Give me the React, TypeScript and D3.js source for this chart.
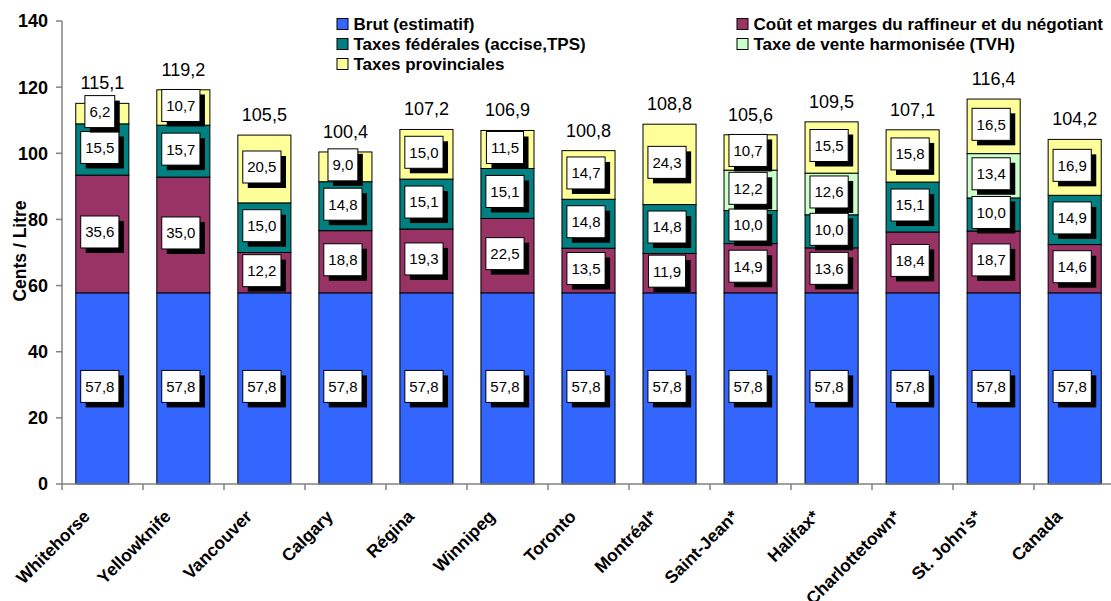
import React, { useEffect, useRef } from 'react';
import * as d3 from 'd3';

const cities = [
  'Whitehorse', 'Yellowknife', 'Vancouver', 'Calgary', 'Régina', 'Winnipeg', 'Toronto',
  'Montréal*', 'Saint-Jean*', 'Halifax*', 'Charlottetown*', "St. John's*", 'Canada',
];

const brut = [57.8, 57.8, 57.8, 57.8, 57.8, 57.8, 57.8, 57.8, 57.8, 57.8, 57.8, 57.8, 57.8];
const raffineur = [35.6, 35.0, 12.2, 18.8, 19.3, 22.5, 13.5, 11.9, 14.9, 13.6, 18.4, 18.7, 14.6];
const federales = [15.5, 15.7, 15.0, 14.8, 15.1, 15.1, 14.8, 14.8, 10.0, 10.0, 15.1, 10.0, 14.9];
const tvh = [0, 0, 0, 0, 0, 0, 0, 0, 12.2, 12.6, 0, 13.4, 0];
const provinciales = [6.2, 10.7, 20.5, 9.0, 15.0, 11.5, 14.7, 24.3, 10.7, 15.5, 15.8, 16.5, 16.9];
const totals = [115.1, 119.2, 105.5, 100.4, 107.2, 106.9, 100.8, 108.8, 105.6, 109.5, 107.1, 116.4, 104.2];

const yTicks = [0, 20, 40, 60, 80, 100, 120, 140];

const series = [
  { key: 'brut', label: 'Brut (estimatif)', values: brut, color: '#3366FF' },
  { key: 'raff', label: 'Coût et marges du raffineur et du négotiant', values: raffineur, color: '#993366' },
  { key: 'fed', label: 'Taxes fédérales (accise,TPS)', values: federales, color: '#008080' },
  { key: 'tvh', label: 'Taxe de vente harmonisée (TVH)', values: tvh, color: '#CCFFCC' },
  { key: 'prov', label: 'Taxes provinciales', values: provinciales, color: '#FFFF99' },
];

const FONT = 'Arial, "Liberation Sans", sans-serif';
const fmt = (v: number) => v.toFixed(1).replace('.', ',');

const App: React.FC = () => {
  const svgRef = useRef<SVGSVGElement>(null);

  useEffect(() => {
    if (!svgRef.current) return;
    const svg = d3.select(svgRef.current);
    svg.selectAll('*').remove();

    const left = 62;
    const right = 1115;
    const top = 21;
    const bottom = 484;

    const x = d3.scaleBand<string>().domain(cities).range([left, right]).paddingInner(0.345).paddingOuter(0.17);
    const step = (right - left) / cities.length;
    const y = d3.scaleLinear().domain([0, 140]).range([bottom, top]);

    const rows = cities.map((c, i) => {
      const r: any = { city: c };
      series.forEach(s => { r[s.key] = s.values[i]; });
      return r;
    });
    const stacked = d3.stack<any>().keys(series.map(s => s.key))(rows);

    // bars
    stacked.forEach((layer, li) => {
      svg.append('g')
        .selectAll('rect')
        .data(layer.filter(d => d[1] - d[0] > 0))
        .enter()
        .append('rect')
        .attr('x', d => x(d.data.city)!)
        .attr('width', x.bandwidth())
        .attr('y', d => y(d[1]))
        .attr('height', d => y(d[0]) - y(d[1]))
        .attr('fill', series[li].color)
        .attr('stroke', '#000')
        .attr('stroke-width', 1);
    });

    // value boxes with drop shadow
    const boxes = svg.append('g');
    stacked.forEach(layer => {
      layer.forEach(d => {
        const v = d[1] - d[0];
        if (v <= 0) return;
        const cx = x(d.data.city)! + x.bandwidth() / 2 - 2.5;
        const cy = y((d[0] + d[1]) / 2) - 2;
        const g = boxes.append('g');
        const t = g.append('text')
          .attr('x', cx)
          .attr('y', cy)
          .attr('dy', '0.36em')
          .attr('text-anchor', 'middle')
          .attr('font-family', FONT)
          .attr('font-size', 15)
          .attr('fill', '#000')
          .text(fmt(v));
        const w = (t.node() as SVGTextElement).getComputedTextLength() + 9;
        const h = 32;
        g.insert('rect', 'text')
          .attr('x', cx - w / 2 + 5)
          .attr('y', cy - h / 2 + 5)
          .attr('width', w)
          .attr('height', h)
          .attr('fill', '#000');
        g.insert('rect', 'text')
          .attr('x', cx - w / 2)
          .attr('y', cy - h / 2)
          .attr('width', w)
          .attr('height', h)
          .attr('fill', '#fff')
          .attr('stroke', '#000')
          .attr('stroke-width', 1);
      });
    });

    // totals
    svg.append('g')
      .selectAll('text')
      .data(cities)
      .enter()
      .append('text')
      .attr('x', c => x(c)! + x.bandwidth() / 2)
      .attr('y', (c, i) => y(totals[i]) - 14)
      .attr('text-anchor', 'middle')
      .attr('font-family', FONT)
      .attr('font-size', 18)
      .text((c, i) => fmt(totals[i]));

    // y axis
    const yAxis = svg.append('g');
    yAxis.append('line')
      .attr('x1', left).attr('x2', left)
      .attr('y1', top).attr('y2', bottom)
      .attr('stroke', '#808080').attr('stroke-width', 1.5);
    yTicks.forEach(t => {
      yAxis.append('line')
        .attr('x1', left - 6).attr('x2', left)
        .attr('y1', y(t)).attr('y2', y(t))
        .attr('stroke', '#808080').attr('stroke-width', 1.5);
      yAxis.append('text')
        .attr('x', left - 14)
        .attr('y', y(t))
        .attr('dy', '0.36em')
        .attr('text-anchor', 'end')
        .attr('font-family', FONT)
        .attr('font-size', 18)
        .attr('font-weight', 'bold')
        .text(t);
    });
    svg.append('text')
      .attr('transform', `translate(26,251) rotate(-90)`)
      .attr('text-anchor', 'middle')
      .attr('font-family', FONT)
      .attr('font-size', 17.5)
      .attr('font-weight', 'bold')
      .text('Cents / Litre');

    // x axis
    const xAxis = svg.append('g');
    xAxis.append('line')
      .attr('x1', left).attr('x2', right)
      .attr('y1', bottom).attr('y2', bottom)
      .attr('stroke', '#808080').attr('stroke-width', 1.5);
    d3.range(cities.length + 1).forEach(i => {
      xAxis.append('line')
        .attr('x1', left + i * step).attr('x2', left + i * step)
        .attr('y1', bottom).attr('y2', bottom + 6)
        .attr('stroke', '#808080').attr('stroke-width', 1.5);
    });
    cities.forEach(c => {
      const cx = x(c)! + x.bandwidth() / 2;
      xAxis.append('text')
        .attr('transform', `translate(${cx - 20},${bottom + 25}) rotate(-45)`)
        .attr('text-anchor', 'end')
        .attr('dy', '0.7em')
        .attr('font-family', FONT)
        .attr('font-size', 17.5)
        .attr('font-weight', 'bold')
        .text(c);
    });

    // legend
    const legendItems = [
      { s: series[0], x: 337, y: 24 },
      { s: series[1], x: 737, y: 24 },
      { s: series[2], x: 337, y: 44 },
      { s: series[3], x: 737, y: 44 },
      { s: series[4], x: 337, y: 64 },
    ];
    const legend = svg.append('g');
    legendItems.forEach(item => {
      legend.append('rect')
        .attr('x', item.x)
        .attr('y', item.y - 5.5)
        .attr('width', 11)
        .attr('height', 11)
        .attr('fill', item.s.color)
        .attr('stroke', '#000')
        .attr('stroke-width', 1);
      legend.append('text')
        .attr('x', item.x + 16.5)
        .attr('y', item.y)
        .attr('dy', '0.36em')
        .attr('font-family', FONT)
        .attr('font-size', 17)
        .attr('font-weight', 'bold')
        .text(item.s.label);
    });
  }, []);

  return (
    <div>
      <style>{'body{margin:0;background:#fff}'}</style>
      <svg ref={svgRef} width={1111} height={601} style={{ display: 'block' }} />
    </div>
  );
};

export default App;
